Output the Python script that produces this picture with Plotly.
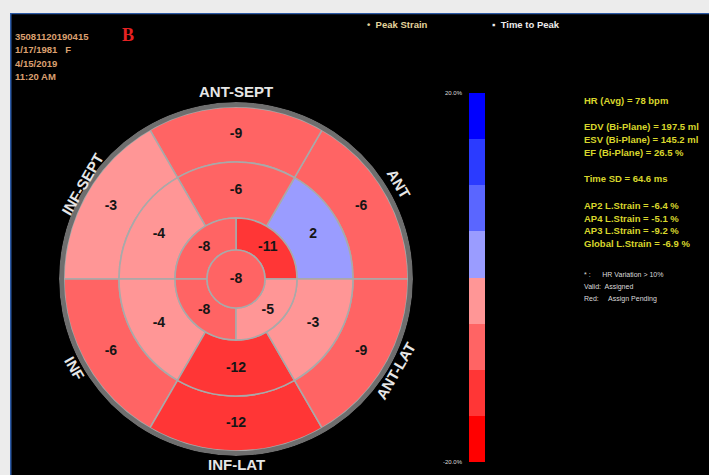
import plotly.graph_objects as go

# ---- segment strain values (%) ----
basal_theta = [30, 90, 150, 210, 270, 330]
basal_vals = [-6, -9, -3, -6, -12, -9]
mid_theta = [30, 90, 150, 210, 270, 330]
mid_vals = [2, -6, -4, -4, -12, -3]
apical_theta = [45, 135, 225, 315]
apical_vals = [-11, -8, -8, -5]
apex_vals = [-8]

wall_names = ["ANT-SEPT", "ANT", "ANT-LAT", "INF-LAT", "INF", "INF-SEPT"]

header_lines = ["35081120190415", "1/17/1981   F", "4/15/2019", "11:20 AM"]
stats_lines = [
    ("HR (Avg) = 78 bpm", 0),
    ("EDV (Bi-Plane) = 197.5 ml", 1),
    ("ESV (Bi-Plane) = 145.2 ml", 1),
    ("EF (Bi-Plane) = 26.5 %", 1),
    ("Time SD = 64.6 ms", 2),
    ("AP2 L.Strain = -6.4 %", 3),
    ("AP4 L.Strain = -5.1 %", 3),
    ("AP3 L.Strain = -9.2 %", 3),
    ("Global L.Strain = -6.9 %", 3),
]
notes_lines = ["* :      HR Variation > 10%", "Valid:  Assigned", "Red:     Assign Pending"]

cmin, cmax = -20, 20
band_colors = ["#ff0000", "#ff3636", "#ff6464", "#ff9696",
               "#9a9cff", "#5a66ff", "#2b3bff", "#0000ff"]
scale = []
n = len(band_colors)
for i, c in enumerate(band_colors):
    scale.append([i / n, c])
    scale.append([(i + 1) / n, c])

W, H = 709, 475
CX, CY, R = 236, 279, 177  # bull's-eye centre and outer radius, px
R_APEX, R_API, R_MID, R_BAS = 29, 61, 117, 172

fig = go.Figure()

# full-page cartesian frame in pixel units for text and decorations
fig.update_layout(
    xaxis=dict(domain=[10 / W, 1], range=[10, W], visible=False, fixedrange=True),
    yaxis=dict(domain=[0, 1 - 13 / H], range=[H, 13], visible=False, fixedrange=True),
)
fig.add_trace(go.Scatter(x=[None], y=[None], showlegend=False, hoverinfo="skip"))

seg_line = dict(color="#a9a9a9", width=1.6)
common = dict(colorscale=scale, cmin=cmin, cmax=cmax, line=seg_line)

fig.add_trace(go.Barpolar(
    theta=basal_theta, r=[R_BAS - R_MID] * 6, base=[R_MID] * 6, width=[60] * 6,
    marker=dict(color=basal_vals, showscale=True,
                colorbar=dict(x=469 / W, xanchor="left", y=1 - 277.5 / H, yanchor="middle",
                              len=369 / H, lenmode="fraction", thickness=16,
                              xpad=0, ypad=0, outlinewidth=0, showticklabels=False,
                              ticks=""),
                **common),
    showlegend=False, hoverinfo="skip"))
fig.add_trace(go.Barpolar(
    theta=mid_theta, r=[R_MID - R_API] * 6, base=[R_API] * 6, width=[60] * 6,
    marker=dict(color=mid_vals, **common), showlegend=False, hoverinfo="skip"))
fig.add_trace(go.Barpolar(
    theta=apical_theta, r=[R_API - R_APEX] * 4, base=[R_APEX] * 4, width=[90] * 4,
    marker=dict(color=apical_vals, **common), showlegend=False, hoverinfo="skip"))
fig.add_trace(go.Barpolar(
    theta=[0], r=[R_APEX], base=[0], width=[360],
    marker=dict(color=apex_vals, **common), showlegend=False, hoverinfo="skip"))
# grey rim
fig.add_trace(go.Barpolar(
    theta=[0], r=[R - R_BAS], base=[R_BAS], width=[360],
    marker=dict(color="#6e6e6e", line=dict(width=0)), showlegend=False, hoverinfo="skip"))

# segment value labels
lab_r = ([(R_MID + R_BAS) / 2] * 6 + [(R_API + R_MID) / 2] * 6
         + [(R_APEX + R_API) / 2] * 4 + [0])
lab_t = basal_theta + mid_theta + apical_theta + [0]
lab_v = basal_vals + mid_vals + apical_vals + apex_vals
fig.add_trace(go.Scatterpolar(
    r=lab_r, theta=lab_t, mode="text", text=[str(v) for v in lab_v],
    textfont=dict(family="Liberation Sans, Arial", size=14, color="#151515", weight="bold"),
    showlegend=False, hoverinfo="skip"))

fig.update_layout(
    polar=dict(
        domain=dict(x=[(CX - R) / W, (CX + R) / W], y=[(H - CY - R) / H, (H - CY + R) / H]),
        bgcolor="rgba(0,0,0,0)",
        radialaxis=dict(range=[0, R], visible=False),
        angularaxis=dict(visible=False, direction="counterclockwise", rotation=0),
        bargap=0,
    ),
)

ann = []
# wall names around the rim
wall_pos = [(CX, 91, 0), (399, 183, 60), (395, 371, -60),
            (CX, 464, 0), (75, 368, 60), (82, 184, -60)]
for name, (x, y, a) in zip(wall_names, wall_pos):
    ann.append(dict(x=x, y=y, xref="x", yref="y", text=name, showarrow=False, textangle=a,
                    font=dict(family="Liberation Sans, Arial", size=15, color="#e6e6e6",
                              weight="bold")))

# header block
for i, t in enumerate(header_lines):
    ann.append(dict(x=13, y=36 + i * 13.5, xref="x", yref="y", text=t, showarrow=False,
                    xanchor="left", font=dict(family="Liberation Sans", size=9.5,
                                              color="#dca070", weight="bold")))
ann.append(dict(x=128, y=35, xref="x", yref="y", text="B", showarrow=False,
                font=dict(family="Liberation Serif, Times New Roman", size=18, color="#e52222",
                          weight="bold")))

# legend entries
ann.append(dict(x=365, y=24, xref="x", yref="y", text="•  Peak Strain", showarrow=False,
                xanchor="left", font=dict(family="Liberation Sans", size=9.5,
                                          color="#e4d49c", weight="bold")))
ann.append(dict(x=490, y=24, xref="x", yref="y", text="▪  Time to Peak", showarrow=False,
                xanchor="left", font=dict(family="Liberation Sans", size=9.5,
                                          color="#ececec", weight="bold")))

# colour bar end labels
ann.append(dict(x=465, y=93, xref="x", yref="y", text=f"{cmax:.1f}%", showarrow=False,
                xanchor="right", font=dict(family="Liberation Sans", size=6, color="#dddddd")))
ann.append(dict(x=465, y=462, xref="x", yref="y", text=f"{cmin:.1f}%", showarrow=False,
                xanchor="right", font=dict(family="Liberation Sans", size=6, color="#dddddd")))

# measurement summary
y = 100
prev_group = 0
for t, g in stats_lines:
    if g != prev_group:
        y += 14
        prev_group = g
    ann.append(dict(x=582, y=y, xref="x", yref="y", text=t, showarrow=False, xanchor="left",
                    font=dict(family="Liberation Sans", size=9.5,
                              color="#d8d62c", weight="bold")))
    y += 12.7
for i, t in enumerate(notes_lines):
    ann.append(dict(x=582, y=274 + i * 12.5, xref="x", yref="y", text=t, showarrow=False,
                    xanchor="left", font=dict(family="Liberation Sans", size=7, color="#dcdcdc")))

shapes = [
    dict(type="line", xref="x", yref="y", x0=10, x1=W, y0=13, y1=13,
         line=dict(color="#2c5aa6", width=2.5)),
    dict(type="line", xref="x", yref="y", x0=10.5, x1=10.5, y0=13, y1=H,
         line=dict(color="#2c5aa6", width=2)),
]

fig.update_layout(
    width=W, height=H, margin=dict(l=0, r=0, t=0, b=0),
    paper_bgcolor="#ececec", plot_bgcolor="#000000",
    annotations=ann, shapes=shapes, showlegend=False,
)

fig.write_html("out.html")
